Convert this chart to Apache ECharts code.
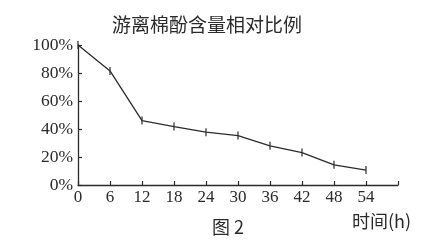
<!DOCTYPE html>
<html><head><meta charset="utf-8">
<script src="https://cdn.jsdelivr.net/npm/echarts@6/dist/echarts.min.js"></script>
<style>html,body{margin:0;padding:0;background:#fff}#c{width:444px;height:244px}</style>
</head><body><div id="c"></div>
<script>
const hours = [0, 6, 12, 18, 24, 30, 36, 42, 48, 54];
const ratio = [100, 81.5, 46, 41.7, 37.7, 35.3, 28, 23.2, 14.4, 10.7];
const titleText = '游离棉酚含量相对比例';
const xName = '时间(h)';
const figLabel = '图 2';

const serif = '"Liberation Serif","DejaVu Serif",serif';
const cjk = '"Noto Sans CJK SC",sans-serif';
const ink = '#2b2b2b';

const chart = echarts.init(document.getElementById('c'));
chart.setOption({
  backgroundColor: '#ffffff',
  animation: false,
  title: {
    text: titleText, left: 202, top: 10, textAlign: 'center',
    textStyle: {fontFamily: cjk, fontSize: 19, fontWeight: 'normal', color: ink}
  },
  grid: {left: 78, right: 46, top: 45, bottom: 59},
  xAxis: {
    type: 'value', min: 0, max: 60, interval: 6,
    axisLine: {lineStyle: {color: ink, width: 1.3}},
    axisTick: {inside: true, length: 4, lineStyle: {color: ink, width: 1.2}},
    splitLine: {show: false},
    axisLabel: {
      margin: 4, color: ink, fontFamily: serif, fontSize: 17,
      formatter: v => (v === 60 ? '' : String(v))
    }
  },
  yAxis: {
    type: 'value', min: 0, max: 100, interval: 20,
    axisLine: {show: true, lineStyle: {color: ink, width: 1.3}},
    axisTick: {show: true, inside: true, length: 4, lineStyle: {color: ink, width: 1.2}},
    splitLine: {show: false},
    axisLabel: {margin: 5, color: ink, fontFamily: serif, fontSize: 17.5, formatter: '{value}%'}
  },
  series: [{
    type: 'line',
    data: hours.map((h, i) => [h, ratio[i]]),
    lineStyle: {color: ink, width: 1.3},
    symbol: 'rect', symbolSize: [1.2, 8],
    itemStyle: {color: ink},
    silent: true
  }],
  graphic: [
    {type: 'text', left: 352, top: 212, style: {text: xName, font: '18px ' + cjk, fill: ink}},
    {type: 'text', left: 212, top: 218, style: {text: figLabel, font: '18px ' + cjk, fill: ink}}
  ]
});
</script></body></html>
